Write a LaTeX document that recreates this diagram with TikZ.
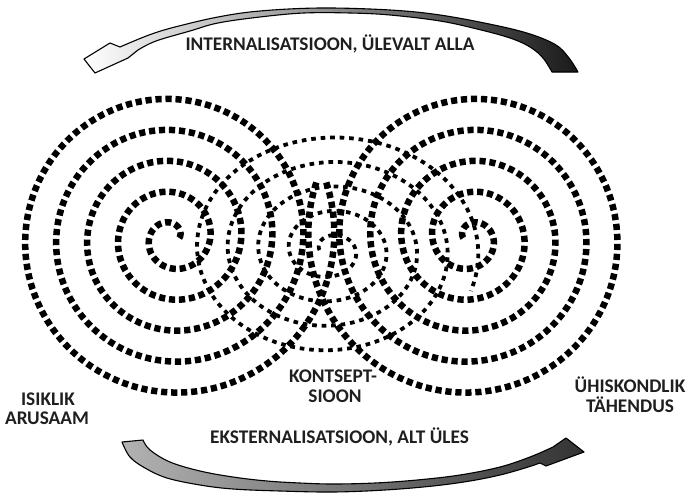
\documentclass[tikz,border=0pt]{standalone}
\usepackage{fontspec}
\setmainfont{Carlito}
\begin{document}
\begin{tikzpicture}[x=1pt,y=-1pt,
  thickdots/.style={line width=6.5pt, dash pattern=on 6.2pt off 3.8pt, line cap=butt},
  thindots/.style={line width=3.8pt, dash pattern=on 4.6pt off 4.9pt, line cap=butt},
  lbl/.style={font=\fontsize{19.3}{23}\selectfont\bfseries, text=black!88, inner sep=0pt, anchor=base},
  band/.style={draw=black, line width=1.1pt, line join=round}]
\useasboundingbox (0,0) rectangle (695,495);

% left spiral (counter-clockwise outward)
\draw[thickdots] plot[domain=0:1820, samples=900, variable=\t]
  ({172+(15+(\t-90)/360*31)*cos(\t)}, {238-(15+(\t-90)/360*31)*sin(\t)});
% right spiral (mirror image)
\draw[thickdots] plot[domain=0:1820, samples=900, variable=\t]
  ({470.6-(15+(\t-90)/360*31)*cos(\t)}, {238-(15+(\t-90)/360*31)*sin(\t)});
% middle spiral (elliptical, thinner dots)
\draw[thindots] plot[domain=0:1640, samples=900, variable=\p]
  ({330-1.25*(8.3+\p/360*24.5)*cos(\p)}, {250-(8.3+\p/360*24.5)*sin(\p)});

% top arrow
\shadedraw[band, left color=white, middle color=gray!45, right color=black!90]
  plot[smooth, tension=0.6] coordinates {(578,72) (569,58) (556,45) (530,34) (494,25) (440,15) (390,10) (321,8) (260,11) (218,17) (175,27) (149,35) (120,47)}
  -- (110,43) -- (84,59) -- (95,73) -- (128,58)
  -- plot[smooth, tension=0.6] coordinates {(138,50) (156,41) (190,31) (218,23) (260,17) (304,13) (350,13) (390,15) (440,21) (477,29) (510,38) (530,47) (543,58) (552,72)}
  -- cycle;

% bottom arrow
\shadedraw[band, left color=gray!60, middle color=black!72, right color=black!80]
  plot[smooth, tension=0.6] coordinates {(143,440) (150,450) (170,462) (200,471) (233,477) (267,481) (300,483) (333,484) (375,483) (417,480) (460,475) (500,467) (530,457) (553,447)}
  -- (566,438) -- (584,452) -- (546,466)
  -- plot[smooth, tension=0.6] coordinates {(540,463) (525,468) (500,475) (470,481) (433,486) (385,490) (333,492) (280,491) (233,489) (200,485) (167,478) (145,468) (130,457) (122,442)}
  -- cycle;

% labels
\node[lbl] (int) at (330,50) {INTERNALISATSIOON, ÜLEVALT ALLA};
\node[lbl] (eks) at (339.5,443) {EKSTERNALISATSIOON, ALT ÜLES};
\node[lbl] (isik1) at (48,405) {ISIKLIK};
\node[lbl] (isik2) at (47,424) {ARUSAAM};
\node[lbl] (kon1) at (333,382) {KONTSEPT-};
\node[lbl] (kon2) at (335,402) {SIOON};
\node[lbl] (uhis1) at (630,392) {ÜHISKONDLIK};
\node[lbl] (uhis2) at (630,412) {TÄHENDUS};
\end{tikzpicture}
\end{document}
